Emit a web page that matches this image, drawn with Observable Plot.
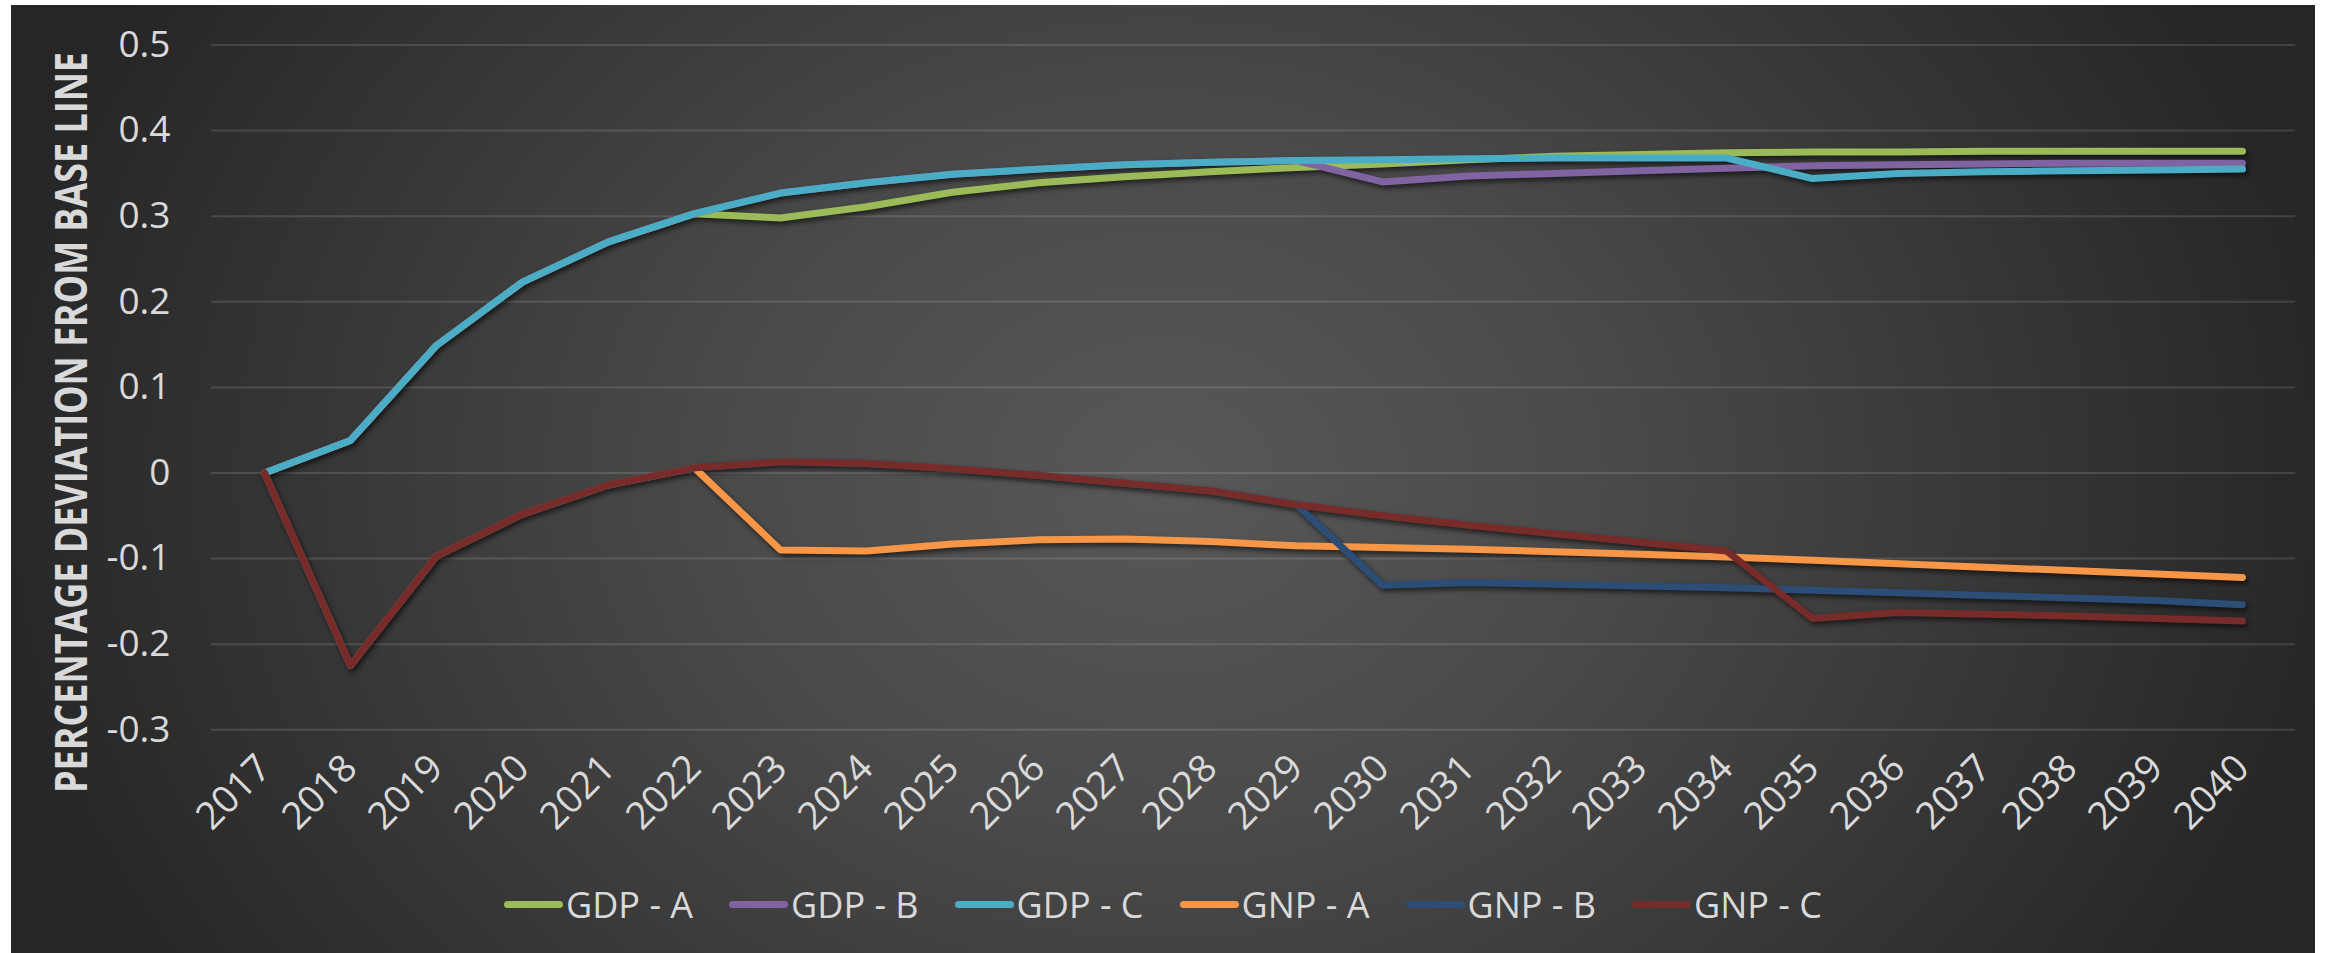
<!DOCTYPE html>
<html>
<head>
<meta charset="utf-8">
<script src="https://cdn.jsdelivr.net/npm/d3@7"></script>
<script src="https://cdn.jsdelivr.net/npm/@observablehq/plot@0.6"></script>
<style>
  html, body { margin: 0; padding: 0; background: #ffffff; }
  #panel {
    position: absolute; left: 11px; top: 5px; width: 2304px; height: 948px; overflow: hidden;
    background: radial-gradient(ellipse 1250px 1000px at 50% 50%, #585858 0%, #4a4a4a 35%, #262626 95%);
    font-family: "Open Sans", sans-serif;
  }
  #legend {
    position: absolute; left: 0; right: 0; top: 872px; height: 54px;
    display: flex; justify-content: center; align-items: center; gap: 36px;
    color: #d9d9d9; font-size: 36px;
  }
  .item { display: flex; align-items: center; }
  .swatch { width: 59px; height: 7px; border-radius: 4px; margin-right: 3px; }
</style>
</head>
<body>
<div id="panel"><div id="chart"></div><div id="legend"></div></div>
<script>
// Years on the category axis
const years = ["2017","2018","2019","2020","2021","2022","2023","2024","2025","2026","2027","2028",
               "2029","2030","2031","2032","2033","2034","2035","2036","2037","2038","2039","2040"];

// Percentage deviation from base line, per scenario
const gdpA = [0, 0.038, 0.149, 0.223, 0.270, 0.303, 0.298, 0.311, 0.328, 0.339, 0.346, 0.352,
              0.357, 0.361, 0.366, 0.370, 0.372, 0.374, 0.375, 0.375, 0.376, 0.376, 0.376, 0.376];
const gdpB = [0, 0.038, 0.149, 0.223, 0.270, 0.303, 0.327, 0.339, 0.349, 0.355, 0.360, 0.363,
              0.365, 0.340, 0.347, 0.350, 0.353, 0.356, 0.359, 0.360, 0.361, 0.362, 0.362, 0.362];
const gdpC = [0, 0.038, 0.149, 0.223, 0.270, 0.303, 0.327, 0.339, 0.349, 0.355, 0.360, 0.363,
              0.365, 0.366, 0.367, 0.368, 0.368, 0.368, 0.344, 0.350, 0.352, 0.353, 0.354, 0.355];
const gnpA = [0, -0.225, -0.097, -0.048, -0.014, 0.006, -0.090, -0.091, -0.083, -0.078, -0.077, -0.080,
              -0.085, -0.087, -0.089, -0.092, -0.095, -0.098, -0.102, -0.106, -0.110, -0.114, -0.118, -0.122];
const gnpB = [0, -0.225, -0.097, -0.048, -0.014, 0.006, 0.013, 0.011, 0.005, -0.003, -0.012, -0.021,
              -0.037, -0.131, -0.128, -0.130, -0.132, -0.134, -0.137, -0.140, -0.143, -0.146, -0.149, -0.154];
const gnpC = [0, -0.225, -0.097, -0.048, -0.014, 0.006, 0.013, 0.011, 0.005, -0.003, -0.012, -0.021,
              -0.037, -0.050, -0.061, -0.071, -0.081, -0.091, -0.170, -0.163, -0.165, -0.167, -0.170, -0.173];

const seriesNames = ["GDP - A", "GDP - B", "GDP - C", "GNP - A", "GNP - B", "GNP - C"];
const seriesColors = ["#9bbb59", "#8064a2", "#4bacc6", "#f79646", "#2c4d75", "#772c2a"];
const yTicks = [-0.3, -0.2, -0.1, 0, 0.1, 0.2, 0.3, 0.4, 0.5];
const yTitle = "PERCENTAGE DEVIATION FROM BASE LINE";

// Long-format rows, in drawing order (later series sit on top)
const seriesValues = [gdpA, gdpB, gdpC, gnpA, gnpB, gnpC];
const rows = seriesNames.flatMap((name, s) =>
  years.map((year, i) => ({series: name, year, value: seriesValues[s][i]})));

const chart = Plot.plot({
  width: 2304,
  height: 850,
  marginLeft: 200,
  marginRight: 20,
  marginTop: 39.5,
  marginBottom: 125.7,
  style: {background: "transparent", color: "#d9d9d9", fontFamily: "'Open Sans', sans-serif", fontSize: "37px"},
  x: {type: "point", domain: years, padding: 0.5, label: null, tickRotate: -45, tickSize: 0, tickPadding: 32},
  y: {domain: [-0.3, 0.5], ticks: yTicks, label: null, tickSize: 0, tickPadding: 41,
      tickFormat: d => d === 0 ? "0" : String(+d.toFixed(1))},
  color: {domain: seriesNames, range: seriesColors},
  marks: [
    Plot.gridY(yTicks, {stroke: "#ffffff", strokeOpacity: 0.13, strokeWidth: 2}),
    Plot.lineY(rows, {x: "year", y: "value", z: "series", stroke: "series",
                      strokeWidth: 7, strokeLinecap: "round", strokeLinejoin: "round"})
  ]
});
document.getElementById("chart").appendChild(chart);

const svg = d3.select(chart);
svg.style("overflow", "visible");
svg.selectAll('g[aria-label="line"]').style("filter", "drop-shadow(2px 3px 2.5px rgba(0,0,0,0.6))");
svg.selectAll('g[aria-label="x-axis tick label"] text').style("font-size", "38px");

// Rotated value-axis title, narrowed horizontally to its 741px run
const title = svg.append("text")
  .attr("text-anchor", "middle")
  .attr("dy", "0.357em")
  .attr("fill", "#d9d9d9")
  .attr("font-weight", "bold")
  .attr("font-size", 44)
  .text(yTitle);
const natural = title.node().getComputedTextLength() || 741;
title.attr("transform", `translate(60,417.5) rotate(-90) scale(${741 / natural},1)`);

// Legend
const legend = d3.select("#legend");
seriesNames.forEach((name, i) => {
  const item = legend.append("div").attr("class", "item");
  item.append("div").attr("class", "swatch").style("background", seriesColors[i]);
  item.append("span").text(name);
});
</script>
</body>
</html>
